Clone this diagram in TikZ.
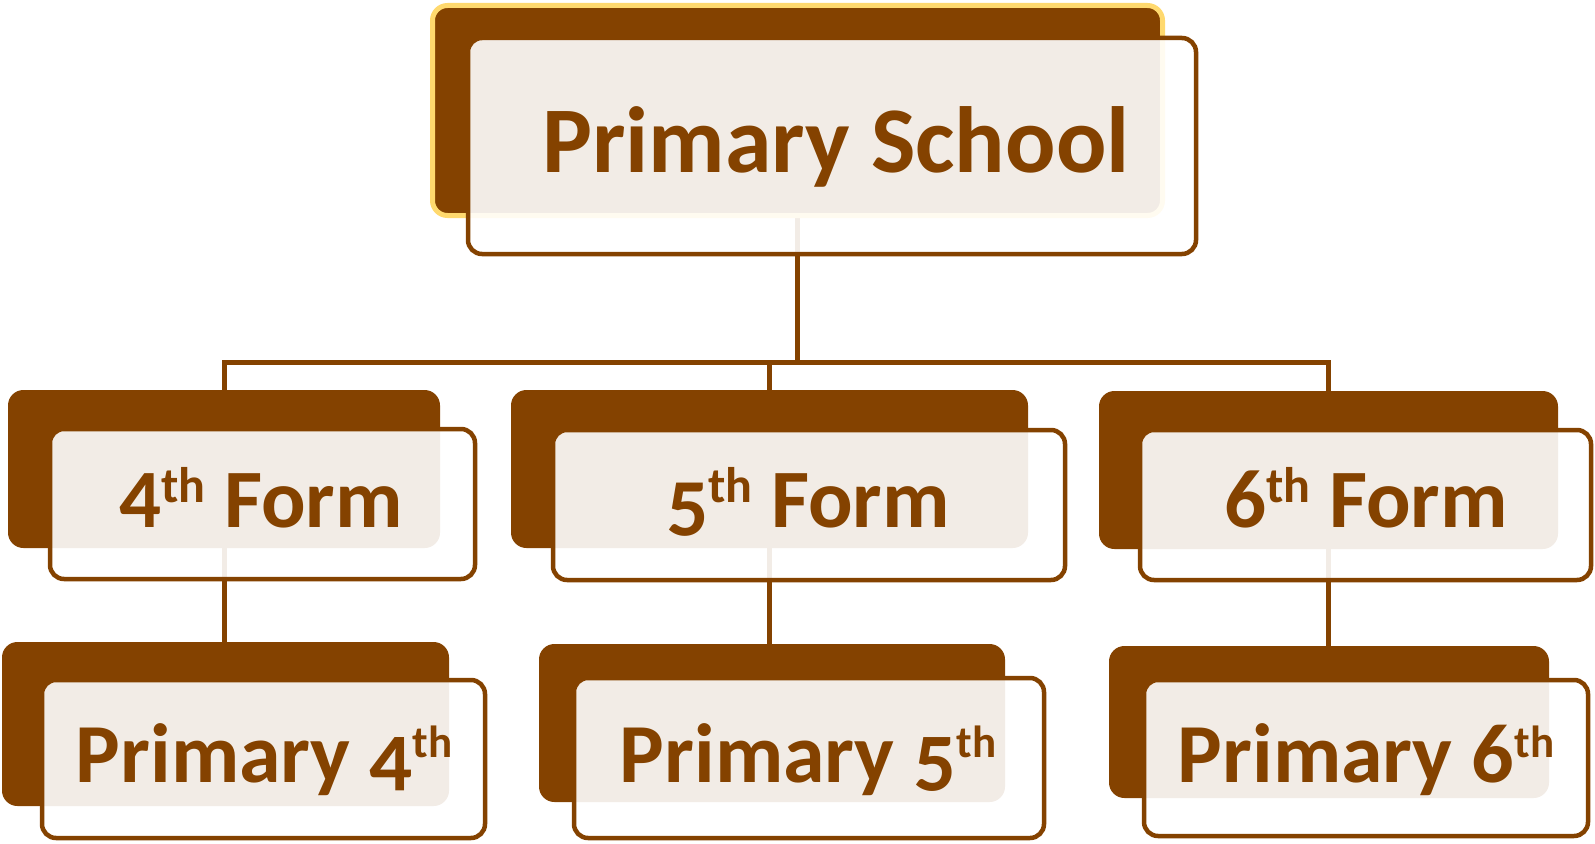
\documentclass[tikz,border=0pt]{standalone}
\usepackage{fontspec}
\setmainfont{Carlito}
\usetikzlibrary{backgrounds}
\definecolor{brn}{RGB}{132,66,0}
\definecolor{gold}{RGB}{255,217,110}
\newcommand\supth[2]{\raisebox{#2}{\fontsize{#1}{#1}\selectfont th}}
\newcommand\osf[1]{{\addfontfeatures{Numbers=OldStyle}#1}}
\begin{document}
\begin{tikzpicture}[x=1pt,y=-1pt,
  back/.style={rectangle, rounded corners=15pt, fill=brn, draw=brn, line width=1pt, inner sep=0pt},
  front/.style={rectangle, rounded corners=14pt, draw=brn, line width=4.5pt, fill=white, fill opacity=0.9, draw opacity=1, inner sep=0pt},
  lbl/.style={anchor=base, text=brn, inner sep=0pt},
  link/.style={draw=brn, line width=5pt}]
\useasboundingbox (0,0) rectangle (1595,843);
% top
\node[back, draw=gold, line width=5pt, minimum width=730pt, minimum height=210pt] (ps) at (797.5,110.5) {};
\node[front, minimum width=728pt, minimum height=216pt] (psf) at (832,146) {};
\node[lbl, font=\fontsize{94}{100}\selectfont\bfseries] (pst) at (836,172) {Primary School};
% forms
\node[back, minimum width=431pt, minimum height=157pt] (f4) at (224,469) {};
\node[front, minimum width=425pt, minimum height=150pt] (f4f) at (262.5,504) {};
\node[lbl, font=\fontsize{83}{90}\selectfont\bfseries] (f4t) at (261,527) {4\supth{50}{25pt} Form};
\node[back, minimum width=516pt, minimum height=157pt] (f5) at (769.5,469) {};
\node[front, minimum width=512pt, minimum height=150pt] (f5f) at (809,505) {};
\node[lbl, font=\fontsize{83}{90}\selectfont\bfseries] (f5t) at (808,527) {\osf{5}\supth{50}{25pt} Form};
\node[back, minimum width=458pt, minimum height=157pt] (f6) at (1328.5,470) {};
\node[front, minimum width=451pt, minimum height=150pt] (f6f) at (1365.5,505) {};
\node[lbl, font=\fontsize{83}{90}\selectfont\bfseries] (f6t) at (1366,527) {6\supth{50}{25pt} Form};
% primaries
\node[back, minimum width=446pt, minimum height=163pt] (p4) at (225.5,724) {};
\node[front, minimum width=443pt, minimum height=158pt] (p4f) at (263.5,759) {};
\node[lbl, font=\fontsize{84}{90}\selectfont\bfseries] (p4t) at (264,782) {Primary \osf{4}\supth{45}{25pt}};
\node[back, minimum width=465pt, minimum height=157pt] (p5) at (772,723) {};
\node[front, minimum width=470pt, minimum height=160pt] (p5f) at (809,758) {};
\node[lbl, font=\fontsize{84}{90}\selectfont\bfseries] (p5t) at (808,782) {Primary \osf{5}\supth{45}{25pt}};
\node[back, minimum width=439pt, minimum height=151pt] (p6) at (1329,722) {};
\node[front, minimum width=444pt, minimum height=156pt] (p6f) at (1366,758) {};
\node[lbl, font=\fontsize{84}{90}\selectfont\bfseries] (p6t) at (1366,782) {Primary 6\supth{45}{25pt}};
% connectors
\coordinate (bus) at (0,362);
\begin{scope}[on background layer]
\draw[link] (ps.center) -- (ps.center |- bus);
\draw[link] (f4.center) -- (f4.center |- bus) -- (f6.center |- bus) -- (f6.center);
\draw[link] (f5.center) -- (f5.center |- bus);
\draw[link] (f4.center) -- (f4.center |- p4.center);
\draw[link] (f5.center) -- (f5.center |- p5.center);
\draw[link] (f6.center) -- (f6.center |- p6.center);
\end{scope}
\end{tikzpicture}
\end{document}
